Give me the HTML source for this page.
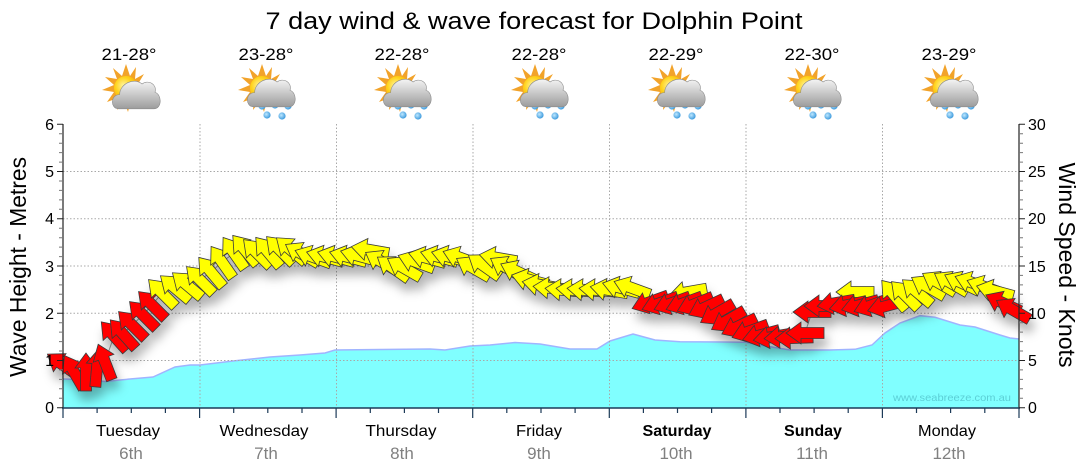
<!DOCTYPE html>
<html><head><meta charset="utf-8"><style>
html,body{margin:0;padding:0;background:#fff;}
svg{display:block;font-family:"Liberation Sans",sans-serif;}
</style></head><body>
<svg width="1080" height="475" viewBox="0 0 1080 475" xmlns="http://www.w3.org/2000/svg">
<defs>
<polygon id="a" points="19,0 4,-11 4,-5.5 -19,-5.5 -19,5.5 4,5.5 4,11" stroke="#3a3a3a" stroke-width="0.8" stroke-linejoin="miter"/>
<filter id="sh" x="-10%" y="-30%" width="120%" height="180%"><feDropShadow dx="3" dy="9" stdDeviation="5" flood-color="#000" flood-opacity="0.3"/></filter>
<radialGradient id="sg" cx="0.4" cy="0.4" r="0.7"><stop offset="0" stop-color="#fff6a0"/><stop offset="0.5" stop-color="#ffd21a"/><stop offset="1" stop-color="#f0a000"/></radialGradient>
<linearGradient id="cg" x1="0" y1="0" x2="0" y2="1"><stop offset="0" stop-color="#f4f4f4"/><stop offset="1" stop-color="#9c9c9c"/></linearGradient>
<radialGradient id="dg" cx="0.4" cy="0.4" r="0.7"><stop offset="0" stop-color="#bfe8ff"/><stop offset="1" stop-color="#2a8fd8"/></radialGradient>
<g id="sun">
<polygon points="0,-24 4,-12 10,-21 9,-9 18,-14 12,-4 24,-4 13,3 22,10 10,9 14,20 5,12 2,24 -2,13 -9,22 -8,10 -19,14 -12,4 -24,2 -12,-3 -21,-11 -9,-9 -13,-20 -4,-12" fill="#f2a32a"/>
<circle r="12" fill="url(#sg)"/>
</g>
<path id="cl" d="M-3,21 C-10,21 -10,9 -2,9 C-2,0 10,-6 17,0 C22,-4 30,0 28,7 C34,9 34,21 27,21 Z" fill="url(#cg)" stroke="#8a8a8a" stroke-width="0.5"/>
<g id="rain">
<circle cx="0" cy="18" r="3.6" fill="url(#dg)"/><circle cx="13" cy="17" r="3.6" fill="url(#dg)"/><circle cx="26" cy="18" r="3.6" fill="url(#dg)"/>
<circle cx="5" cy="27" r="3.6" fill="url(#dg)"/><circle cx="20" cy="28" r="3.6" fill="url(#dg)"/>
</g>
</defs>

<text x="534" y="29" font-size="24" text-anchor="middle" textLength="537" lengthAdjust="spacingAndGlyphs" fill="#000">7 day wind &amp; wave forecast for Dolphin Point</text>

<g font-size="17" text-anchor="middle" fill="#000">
<text x="129" y="60" textLength="55" lengthAdjust="spacingAndGlyphs">21-28°</text>
<text x="266" y="60" textLength="55" lengthAdjust="spacingAndGlyphs">23-28°</text>
<text x="402" y="60" textLength="55" lengthAdjust="spacingAndGlyphs">22-28°</text>
<text x="539" y="60" textLength="55" lengthAdjust="spacingAndGlyphs">22-28°</text>
<text x="676" y="60" textLength="55" lengthAdjust="spacingAndGlyphs">22-29°</text>
<text x="812" y="60" textLength="55" lengthAdjust="spacingAndGlyphs">22-30°</text>
<text x="949" y="60" textLength="55" lengthAdjust="spacingAndGlyphs">23-29°</text>
</g>

<g transform="translate(126,88)"><use href="#sun"/><use href="#cl" transform="translate(-4,-4) scale(1.18)"/></g>
<g transform="translate(262,88)"><use href="#sun"/><use href="#rain"/><use href="#cl" transform="translate(-5,-6) scale(1.18)"/></g>
<g transform="translate(398,88)"><use href="#sun"/><use href="#rain"/><use href="#cl" transform="translate(-5,-6) scale(1.18)"/></g>
<g transform="translate(535,88)"><use href="#sun"/><use href="#rain"/><use href="#cl" transform="translate(-5,-6) scale(1.18)"/></g>
<g transform="translate(672,88)"><use href="#sun"/><use href="#rain"/><use href="#cl" transform="translate(-5,-6) scale(1.18)"/></g>
<g transform="translate(808,88)"><use href="#sun"/><use href="#rain"/><use href="#cl" transform="translate(-5,-6) scale(1.18)"/></g>
<g transform="translate(945,88)"><use href="#sun"/><use href="#rain"/><use href="#cl" transform="translate(-5,-6) scale(1.18)"/></g>

<path d="M63,408 L63,379 L90,380 L105,381.5 L130,379 L153,377 L175,367 L190,365 L200,365 L233,361 L270,357 L300,355 L325,353 L335,350 L380,349.5 L430,349 L445,350 L470,346 L490,345 L515,342.5 L540,344 L570,349 L597,349 L610,341 L633,334 L655,340 L680,341.7 L720,342 L745,342.3 L760,345 L790,350 L830,350 L855,349.3 L872,345 L885,333 L900,323 L920,315.7 L935,317.3 L960,325 L975,327 L1000,335 L1010,338 L1019,339 L1019,408 Z" fill="#80ffff"/>
<path d="M63,379 L90,380 L105,381.5 L130,379 L153,377 L175,367 L190,365 L200,365 L233,361 L270,357 L300,355 L325,353 L335,350 L380,349.5 L430,349 L445,350 L470,346 L490,345 L515,342.5 L540,344 L570,349 L597,349 L610,341 L633,334 L655,340 L680,341.7 L720,342 L745,342.3 L760,345 L790,350 L830,350 L855,349.3 L872,345 L885,333 L900,323 L920,315.7 L935,317.3 L960,325 L975,327 L1000,335 L1010,338 L1019,339" fill="none" stroke="#a0b4ff" stroke-width="1.5"/>

<text x="952" y="401" font-size="10.5" text-anchor="middle" fill="#5ccfd6" textLength="118" lengthAdjust="spacingAndGlyphs">www.seabreeze.com.au</text>

<g stroke="#a8a8a8" stroke-width="1" stroke-dasharray="1.5,2" fill="none">
<line x1="63" y1="360.5" x2="1019" y2="360.5"/>
<line x1="63" y1="313.2" x2="1019" y2="313.2"/>
<line x1="63" y1="266" x2="1019" y2="266"/>
<line x1="63" y1="218.8" x2="1019" y2="218.8"/>
<line x1="63" y1="171.5" x2="1019" y2="171.5"/>
<line x1="200" y1="124" x2="200" y2="408"/>
<line x1="336.5" y1="124" x2="336.5" y2="408"/>
<line x1="473" y1="124" x2="473" y2="408"/>
<line x1="609.5" y1="124" x2="609.5" y2="408"/>
<line x1="746" y1="124" x2="746" y2="408"/>
<line x1="882.5" y1="124" x2="882.5" y2="408"/>
</g>

<polyline points="63,365 74,372 86,372 97,368 105,362 114,336 123,334 132,325 143,315 152,305 162,293 175,288 187,285 200,280 211,272 222,262 234,253 245,250 257,253 268,252 280,250 291,250 302,254 313,257 325,257 336,257 348,257 359,256 370,250 382,262 393,268 404,268 416,262 427,258 439,257 450,257 461,258 473,268 484,266 498,258 507,268 518,272 530,280 541,285 552,288 564,290 575,290 586,290 598,290 609,290 621,288 632,288 650,302 660,303 672,303 684,303 695,304 706,307 717,313 728,320 739,326 750,331 761,335 772,337 783,337 794,338 805,333 812,312 823,306 836,303 848,305 860,305 872,305 886,306 894,295 905,295 917,292 928,287 939,283 951,283 962,283 973,283 985,287 995,291 1003,303 1013,310" fill="none" stroke="#999" stroke-width="1"/>

<g filter="url(#sh)">
<use href="#a" fill="#ff0000" transform="translate(63 365) rotate(-145)"/>
<use href="#a" fill="#ff0000" transform="translate(74 372) rotate(-120)"/>
<use href="#a" fill="#ff0000" transform="translate(86 372) rotate(-90)"/>
<use href="#a" fill="#ff0000" transform="translate(97 368) rotate(-85)"/>
<use href="#a" fill="#ff0000" transform="translate(105 362) rotate(-111)"/>
<use href="#a" fill="#ff0000" transform="translate(114 336) rotate(-132)"/>
<use href="#a" fill="#ff0000" transform="translate(123 334) rotate(-132)"/>
<use href="#a" fill="#ff0000" transform="translate(132 325) rotate(-135)"/>
<use href="#a" fill="#ff0000" transform="translate(143 315) rotate(-135)"/>
<use href="#a" fill="#ff0000" transform="translate(152 305) rotate(-135)"/>
<use href="#a" fill="#ffff00" transform="translate(162 293) rotate(-135)"/>
<use href="#a" fill="#ffff00" transform="translate(175 288) rotate(-140)"/>
<use href="#a" fill="#ffff00" transform="translate(187 285) rotate(-140)"/>
<use href="#a" fill="#ffff00" transform="translate(200 280) rotate(-135)"/>
<use href="#a" fill="#ffff00" transform="translate(211 272) rotate(-130)"/>
<use href="#a" fill="#ffff00" transform="translate(222 262) rotate(-125)"/>
<use href="#a" fill="#ffff00" transform="translate(234 253) rotate(-125)"/>
<use href="#a" fill="#ffff00" transform="translate(245 250) rotate(-130)"/>
<use href="#a" fill="#ffff00" transform="translate(257 253) rotate(-135)"/>
<use href="#a" fill="#ffff00" transform="translate(268 252) rotate(-130)"/>
<use href="#a" fill="#ffff00" transform="translate(280 250) rotate(-135)"/>
<use href="#a" fill="#ffff00" transform="translate(291 250) rotate(-140)"/>
<use href="#a" fill="#ffff00" transform="translate(302 254) rotate(-150)"/>
<use href="#a" fill="#ffff00" transform="translate(313 257) rotate(-160)"/>
<use href="#a" fill="#ffff00" transform="translate(325 257) rotate(-165)"/>
<use href="#a" fill="#ffff00" transform="translate(336 257) rotate(-165)"/>
<use href="#a" fill="#ffff00" transform="translate(348 257) rotate(-165)"/>
<use href="#a" fill="#ffff00" transform="translate(359 256) rotate(-165)"/>
<use href="#a" fill="#ffff00" transform="translate(370 250) rotate(-170)"/>
<use href="#a" fill="#ffff00" transform="translate(382 262) rotate(-150)"/>
<use href="#a" fill="#ffff00" transform="translate(393 268) rotate(-145)"/>
<use href="#a" fill="#ffff00" transform="translate(404 268) rotate(-150)"/>
<use href="#a" fill="#ffff00" transform="translate(416 262) rotate(-160)"/>
<use href="#a" fill="#ffff00" transform="translate(427 258) rotate(-165)"/>
<use href="#a" fill="#ffff00" transform="translate(439 257) rotate(-165)"/>
<use href="#a" fill="#ffff00" transform="translate(450 257) rotate(-165)"/>
<use href="#a" fill="#ffff00" transform="translate(461 258) rotate(-160)"/>
<use href="#a" fill="#ffff00" transform="translate(473 268) rotate(-150)"/>
<use href="#a" fill="#ffff00" transform="translate(484 266) rotate(-145)"/>
<use href="#a" fill="#ffff00" transform="translate(498 258) rotate(-170)"/>
<use href="#a" fill="#ffff00" transform="translate(507 268) rotate(-150)"/>
<use href="#a" fill="#ffff00" transform="translate(518 272) rotate(-155)"/>
<use href="#a" fill="#ffff00" transform="translate(530 280) rotate(-165)"/>
<use href="#a" fill="#ffff00" transform="translate(541 285) rotate(-170)"/>
<use href="#a" fill="#ffff00" transform="translate(552 288) rotate(-175)"/>
<use href="#a" fill="#ffff00" transform="translate(564 290) rotate(-175)"/>
<use href="#a" fill="#ffff00" transform="translate(575 290) rotate(-175)"/>
<use href="#a" fill="#ffff00" transform="translate(586 290) rotate(-175)"/>
<use href="#a" fill="#ffff00" transform="translate(598 290) rotate(-175)"/>
<use href="#a" fill="#ffff00" transform="translate(609 290) rotate(-170)"/>
<use href="#a" fill="#ffff00" transform="translate(621 288) rotate(-165)"/>
<use href="#a" fill="#ffff00" transform="translate(632 288) rotate(-160)"/>
<use href="#a" fill="#ffff00" transform="translate(688 292) rotate(170)"/>
<use href="#a" fill="#ff0000" transform="translate(650 302) rotate(160)"/>
<use href="#a" fill="#ff0000" transform="translate(660 303) rotate(160)"/>
<use href="#a" fill="#ff0000" transform="translate(672 303) rotate(160)"/>
<use href="#a" fill="#ff0000" transform="translate(684 303) rotate(160)"/>
<use href="#a" fill="#ff0000" transform="translate(695 304) rotate(158)"/>
<use href="#a" fill="#ff0000" transform="translate(706 307) rotate(155)"/>
<use href="#a" fill="#ff0000" transform="translate(717 313) rotate(150)"/>
<use href="#a" fill="#ff0000" transform="translate(728 320) rotate(150)"/>
<use href="#a" fill="#ff0000" transform="translate(739 326) rotate(155)"/>
<use href="#a" fill="#ff0000" transform="translate(750 331) rotate(160)"/>
<use href="#a" fill="#ff0000" transform="translate(761 335) rotate(165)"/>
<use href="#a" fill="#ff0000" transform="translate(772 337) rotate(170)"/>
<use href="#a" fill="#ff0000" transform="translate(783 337) rotate(175)"/>
<use href="#a" fill="#ff0000" transform="translate(794 338) rotate(178)"/>
<use href="#a" fill="#ff0000" transform="translate(805 333) rotate(180)"/>
<use href="#a" fill="#ff0000" transform="translate(812 312) rotate(180)"/>
<use href="#a" fill="#ff0000" transform="translate(823 306) rotate(180)"/>
<use href="#a" fill="#ffff00" transform="translate(855 292) rotate(180)"/>
<use href="#a" fill="#ff0000" transform="translate(836 303) rotate(170)"/>
<use href="#a" fill="#ff0000" transform="translate(848 305) rotate(168)"/>
<use href="#a" fill="#ff0000" transform="translate(860 305) rotate(165)"/>
<use href="#a" fill="#ff0000" transform="translate(872 305) rotate(160)"/>
<use href="#a" fill="#ff0000" transform="translate(886 306) rotate(165)"/>
<use href="#a" fill="#ffff00" transform="translate(894 295) rotate(-130)"/>
<use href="#a" fill="#ffff00" transform="translate(905 295) rotate(-135)"/>
<use href="#a" fill="#ffff00" transform="translate(917 292) rotate(-140)"/>
<use href="#a" fill="#ffff00" transform="translate(928 287) rotate(-150)"/>
<use href="#a" fill="#ffff00" transform="translate(939 283) rotate(-150)"/>
<use href="#a" fill="#ffff00" transform="translate(951 283) rotate(-150)"/>
<use href="#a" fill="#ffff00" transform="translate(962 283) rotate(-155)"/>
<use href="#a" fill="#ffff00" transform="translate(973 283) rotate(-160)"/>
<use href="#a" fill="#ffff00" transform="translate(985 287) rotate(-160)"/>
<use href="#a" fill="#ffff00" transform="translate(995 291) rotate(-165)"/>
<use href="#a" fill="#ff0000" transform="translate(1003 303) rotate(-155)"/>
<use href="#a" fill="#ff0000" transform="translate(1013 310) rotate(-150)"/>
</g>

<g stroke="#222" stroke-width="1.2" fill="none">
<line x1="63" y1="124" x2="63" y2="408"/>
<line x1="1019" y1="124" x2="1019" y2="408"/>
</g>
<line x1="62" y1="408" x2="1020" y2="408" stroke="#1c3a58" stroke-width="1.6"/>
<g stroke="#222" stroke-width="1">
<path d="M57,124.3H63M57,171.5H63M57,218.8H63M57,266H63M57,313.2H63M57,360.5H63M57,407.7H63"/>
<path d="M1019,124.3H1025M1019,171.5H1025M1019,218.8H1025M1019,266H1025M1019,313.2H1025M1019,360.5H1025M1019,407.7H1025"/>
</g>
<g stroke="#777" stroke-width="1">
<path d="M59,133.7H63M59,143.2H63M59,152.6H63M59,162.1H63M59,181H63M59,190.4H63M59,199.9H63M59,209.3H63M59,228.2H63M59,237.7H63M59,247.1H63M59,256.6H63M59,275.4H63M59,284.9H63M59,294.3H63M59,303.8H63M59,322.7H63M59,332.1H63M59,341.6H63M59,351H63M59,369.9H63M59,379.4H63M59,388.8H63M59,398.3H63"/>
<path d="M1019,133.7H1023M1019,143.2H1023M1019,152.6H1023M1019,162.1H1023M1019,181H1023M1019,190.4H1023M1019,199.9H1023M1019,209.3H1023M1019,228.2H1023M1019,237.7H1023M1019,247.1H1023M1019,256.6H1023M1019,275.4H1023M1019,284.9H1023M1019,294.3H1023M1019,303.8H1023M1019,322.7H1023M1019,332.1H1023M1019,341.6H1023M1019,351H1023M1019,369.9H1023M1019,379.4H1023M1019,388.8H1023M1019,398.3H1023"/>
</g>
<g stroke="#1c3a58" stroke-width="1.2">
<path d="M63,408V418M199.6,408V418M336.1,408V418M472.7,408V418M609.3,408V418M745.9,408V418M882.4,408V418M1019,408V418"/>
<path d="M97.1,408V413M131.3,408V413M165.4,408V413M233.7,408V413M267.8,408V413M302,408V413M370.3,408V413M404.4,408V413M438.5,408V413M506.8,408V413M541,408V413M575.1,408V413M643.4,408V413M677.5,408V413M711.6,408V413M780,408V413M814.1,408V413M848.2,408V413M916.5,408V413M950.6,408V413M984.8,408V413"/>
</g>

<g font-size="16" fill="#000" text-anchor="end">
<text x="54" y="130">6</text><text x="54" y="177">5</text><text x="54" y="224">4</text><text x="54" y="272">3</text><text x="54" y="319">2</text><text x="54" y="366">1</text><text x="54" y="413">0</text>
</g>
<g font-size="16" fill="#000" text-anchor="start">
<text x="1028" y="130">30</text><text x="1028" y="177">25</text><text x="1028" y="224">20</text><text x="1028" y="272">15</text><text x="1028" y="319">10</text><text x="1028" y="366">5</text><text x="1028" y="413">0</text>
</g>

<text transform="translate(26,267) rotate(-90)" font-size="23" text-anchor="middle" textLength="220" lengthAdjust="spacingAndGlyphs" fill="#000">Wave Height - Metres</text>
<text transform="translate(1059,265) rotate(90)" font-size="23" text-anchor="middle" textLength="205" lengthAdjust="spacingAndGlyphs" fill="#000">Wind Speed - Knots</text>

<g font-size="16" text-anchor="middle" fill="#000">
<text x="128" y="436" textLength="64" lengthAdjust="spacingAndGlyphs">Tuesday</text>
<text x="264" y="436" textLength="89" lengthAdjust="spacingAndGlyphs">Wednesday</text>
<text x="401" y="436" textLength="71" lengthAdjust="spacingAndGlyphs">Thursday</text>
<text x="539" y="436" textLength="46" lengthAdjust="spacingAndGlyphs">Friday</text>
<text x="677" y="436" font-weight="bold" textLength="69" lengthAdjust="spacingAndGlyphs">Saturday</text>
<text x="813" y="436" font-weight="bold" textLength="58" lengthAdjust="spacingAndGlyphs">Sunday</text>
<text x="947" y="436" textLength="58" lengthAdjust="spacingAndGlyphs">Monday</text>
</g>
<g font-size="17" text-anchor="middle" fill="#808080">
<text x="131" y="459">6th</text>
<text x="266" y="459">7th</text>
<text x="402" y="459">8th</text>
<text x="539" y="459">9th</text>
<text x="676" y="459">10th</text>
<text x="812" y="459">11th</text>
<text x="949" y="459">12th</text>
</g>
</svg>
</body></html>
